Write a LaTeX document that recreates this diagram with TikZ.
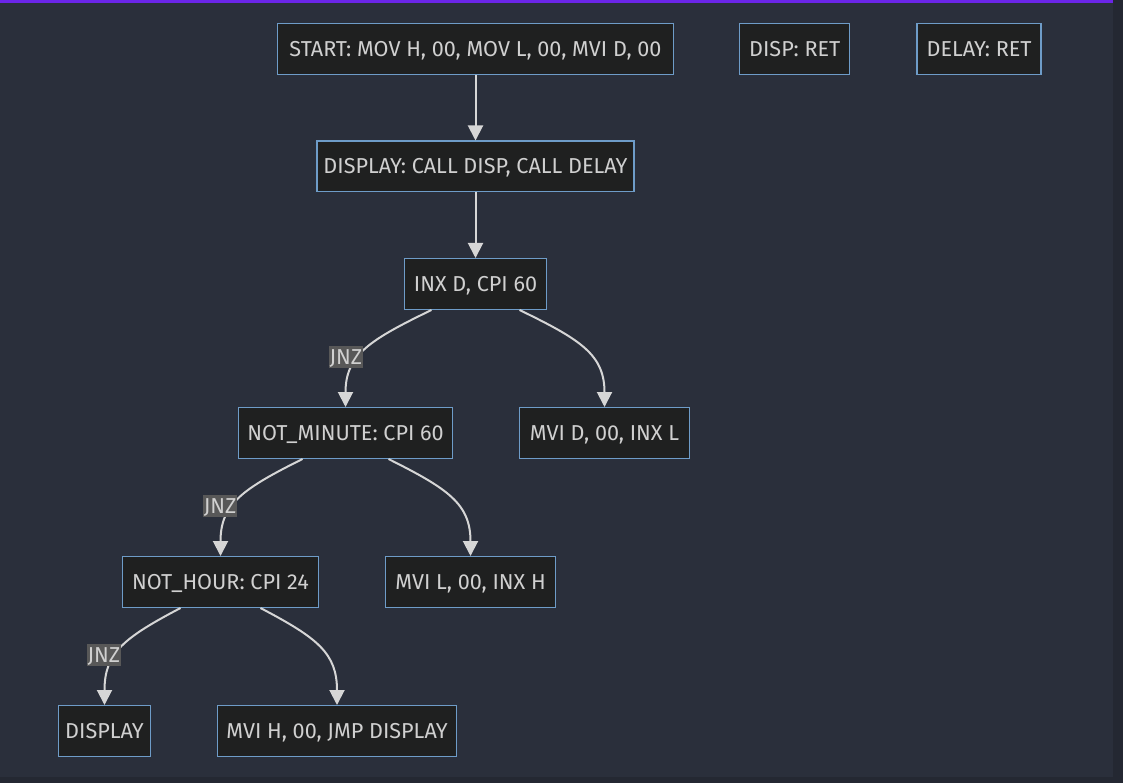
\documentclass[tikz,border=0pt]{standalone}
\usepackage{fontspec}
\setmainfont{Fira Sans}
\usepackage{xcolor}
\usepackage{tikz}
\usetikzlibrary{arrows.meta,positioning}
\definecolor{canvas}{HTML}{2A2F3B}
\definecolor{rimdark}{HTML}{242832}
\definecolor{topbar}{HTML}{6B25E8}
\definecolor{nodefill}{HTML}{1F2020}
\definecolor{nodeline}{HTML}{6E9CC8}
\definecolor{inktext}{HTML}{D0D0D0}
\definecolor{wire}{HTML}{D6D6D6}
\definecolor{tagfill}{HTML}{585858}
\tikzset{
  box/.style ={draw=nodeline,line width=1.3pt,fill=nodefill,text=inktext,
               minimum height=50.7pt,inner sep=0pt,text height=14.8pt,text depth=0pt,
               font=\fontsize{21.6}{24}\selectfont},
  flow/.style={-{Triangle[length=15pt,width=15pt]},line width=2pt,draw=wire},
  tag/.style ={fill=tagfill,text=inktext,inner xsep=1pt,inner ysep=4pt,
               text height=14.8pt,text depth=0pt,font=\fontsize{21.6}{24}\selectfont}
}
\begin{document}
\begin{tikzpicture}[x=1pt,y=1pt]
        \useasboundingbox (0,0) rectangle (1123,-783);
        \fill[canvas] (0,0) rectangle (1123,-783);
        \fill[rimdark] (1113,0) rectangle (1123,-783);
        \fill[rimdark] (0,-777) rectangle (1123,-783);
        \fill[topbar] (0,0) rectangle (1113,-3.5);
        % top row
        \node[box,minimum width=396pt] (start) at (475.5,-49) {START: MOV H, 00, MOV L, 00, MVI D, 00};
        \node[box,right=65pt of start,minimum width=110pt] (disp) {DISP: RET};
        \node[box,right=66pt of disp,minimum width=124pt] (delay) {DELAY: RET};
        % main chain
        \node[box,below=65.5pt of start,minimum width=317pt] (display) {DISPLAY: CALL DISP, CALL DELAY};
        \node[box,below=65.5pt of display,minimum width=142pt] (inx) {INX D, CPI 60};
        \node[box,below=97pt of inx,xshift=-130pt,minimum width=214pt] (notmin) {NOT\_MINUTE: CPI 60};
        \node[box,below=97pt of inx,xshift=129pt,minimum width=170pt] (mvid) {MVI D, 00, INX L};
        \node[box,below=97pt of notmin,xshift=-125pt,minimum width=196pt] (nothour) {NOT\_HOUR: CPI 24};
        \node[box,below=97pt of notmin,xshift=125pt,minimum width=170pt] (mvil) {MVI L, 00, INX H};
        \node[box,below=97pt of nothour,xshift=-116pt,minimum width=92pt] (dispend) {DISPLAY};
        \node[box,below=97pt of nothour,xshift=116.5pt,minimum width=239pt] (mvih) {MVI H, 00, JMP DISPLAY};
        \draw[flow] (start) -- (display);
        \draw[flow] (display) -- (inx);
        \draw[flow] ([xshift=-44pt]inx.south) .. controls +(-62,-30) and +(0,52) .. node[tag,pos=0.6,xshift=-12pt,yshift=2pt] {JNZ} (notmin.north);
        \draw[flow] ([xshift=44pt]inx.south) .. controls +(62,-30) and +(0,52) .. (mvid.north);
        \draw[flow] ([xshift=-43pt]notmin.south) .. controls +(-60,-30) and +(0,52) .. node[tag,pos=0.6,xshift=-12pt,yshift=2pt] {JNZ} (nothour.north);
        \draw[flow] ([xshift=43pt]notmin.south) .. controls +(60,-30) and +(0,52) .. (mvil.north);
        \draw[flow] ([xshift=-40pt]nothour.south) .. controls +(-57,-30) and +(0,52) .. node[tag,pos=0.6,xshift=-11pt,yshift=2pt] {JNZ} (dispend.north);
        \draw[flow] ([xshift=40pt]nothour.south) .. controls +(57,-30) and +(0,52) .. (mvih.north);
      \end{tikzpicture}
\end{document}
